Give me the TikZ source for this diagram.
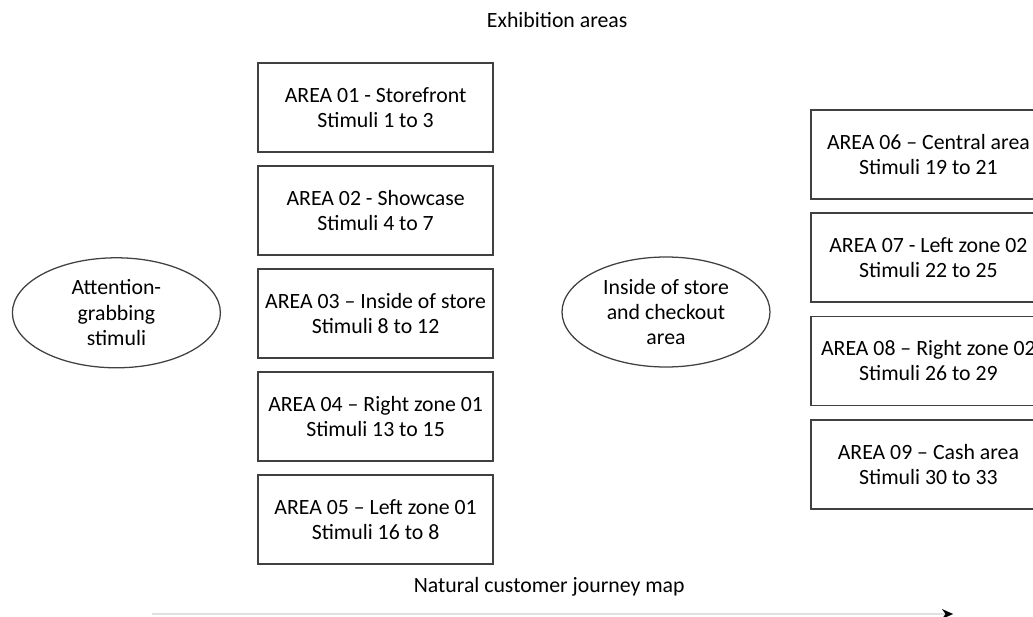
\documentclass[tikz,border=0pt]{standalone}
\usepackage{fontspec}
\setmainfont{Carlito}
\usetikzlibrary{arrows.meta,shapes.geometric}

\begin{document}
\begin{tikzpicture}[font=\fontsize{15.5}{18}\selectfont,
   area/.style={draw=black!75, line width=0.9pt, minimum width=5.875cm, minimum height=2.225cm, align=center, inner sep=0pt},
   group/.style={ellipse, draw=black!75, line width=0.9pt, minimum width=5.2cm, minimum height=2.75cm, align=center, inner sep=0pt}]

   \clip (0,0) rectangle (25.825,15.4);

   \node (title) at (13.93,14.9) {Exhibition areas};

   \node [group] (attention) at (2.91,7.58) {Attention-\\grabbing\\stimuli};
   \node [group] (inside) at (16.65,7.6) {Inside of store\\and checkout\\area};

   \foreach \x/\y/\n/\t/\s in {9.39/12.71/01/- Storefront/1 to 3, 9.39/10.14/02/- Showcase/4 to 7,
        9.39/7.56/03/– Inside of store/8 to 12, 9.39/4.99/04/– Right zone 01/13 to 15,
        9.39/2.41/05/– Left zone 01/16 to 8, 23.21/11.54/06/– Central area/19 to 21,
        23.21/8.96/07/- Left zone 02/22 to 25, 23.21/6.38/08/– Right zone 02/26 to 29,
        23.21/3.79/09/– Cash area/30 to 33}
     \node [area] (a\n) at (\x,\y) {AREA \n{} \t\\Stimuli \s};

   \node (journey) at (13.73,0.725) {Natural customer journey map};
   \coordinate (jstart) at (3.8,0.05);
   \coordinate (jend) at (23.83,0.05);
   \draw [black!12, line width=1.5pt, -{Stealth[color=black, length=8pt, width=7pt]}] (jstart) -- (jend);

\end{tikzpicture}
\end{document}
